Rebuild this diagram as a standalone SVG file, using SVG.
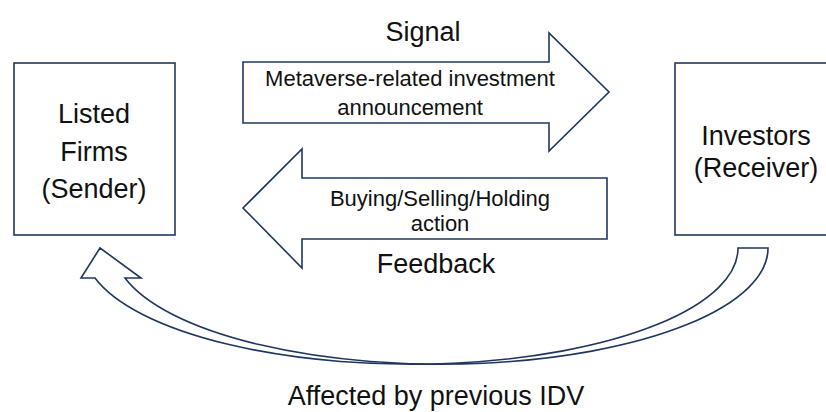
<svg xmlns="http://www.w3.org/2000/svg" width="826" height="412" viewBox="0 0 826 412">
  <style>
    .shape { fill: #ffffff; stroke: #1f3760; stroke-width: 1.6; stroke-linejoin: miter; }
    .big { font-family: "Liberation Sans", Arial, sans-serif; font-size: 27px; fill: #111111; text-anchor: middle; }
    .small { font-family: "Liberation Sans", Arial, sans-serif; font-size: 22px; fill: #111111; text-anchor: middle; }
  </style>
  <rect width="826" height="412" fill="#ffffff"/>

  <!-- Sender node -->
  <g id="sender">
    <rect class="shape" x="14" y="63" width="161" height="172"/>
    <text class="big" x="94" y="123">Listed</text>
    <text class="big" x="94" y="161">Firms</text>
    <text class="big" x="94" y="198">(Sender)</text>
  </g>

  <!-- Receiver node (runs past the right edge) -->
  <g id="receiver">
    <rect class="shape" x="675" y="63" width="160" height="172"/>
    <text class="big" x="756" y="145">Investors</text>
    <text class="big" x="756" y="177">(Receiver)</text>
  </g>

  <g id="connectors">
    <!-- Signal: block arrow to the right -->
    <g id="signal">
      <polygon class="shape" points="243,62 549,62 549,33 609,92 549,151 549,123 243,123"/>
      <text class="big" x="423" y="41">Signal</text>
      <text class="small" x="410" y="86">Metaverse-related investment</text>
      <text class="small" x="410" y="115">announcement</text>
    </g>

    <!-- Feedback: block arrow to the left -->
    <g id="feedback">
      <polygon class="shape" points="607,178 607,239 302,239 302,268 243,208 302,149 302,178"/>
      <text class="small" x="440" y="206">Buying/Selling/Holding</text>
      <text class="small" x="440" y="231">action</text>
      <text class="big" x="436" y="273">Feedback</text>
    </g>

    <!-- Curved up arrow from receiver back to sender -->
    <g id="idv">
      <path class="shape" d="M100,248 L141,278 L125,278 A327,116 0 0 0 768,248 L738,248 A327,116 0 0 1 95,278 L81,278 Z"/>
      <text class="big" x="436" y="405">Affected by previous IDV</text>
    </g>
  </g>
</svg>
